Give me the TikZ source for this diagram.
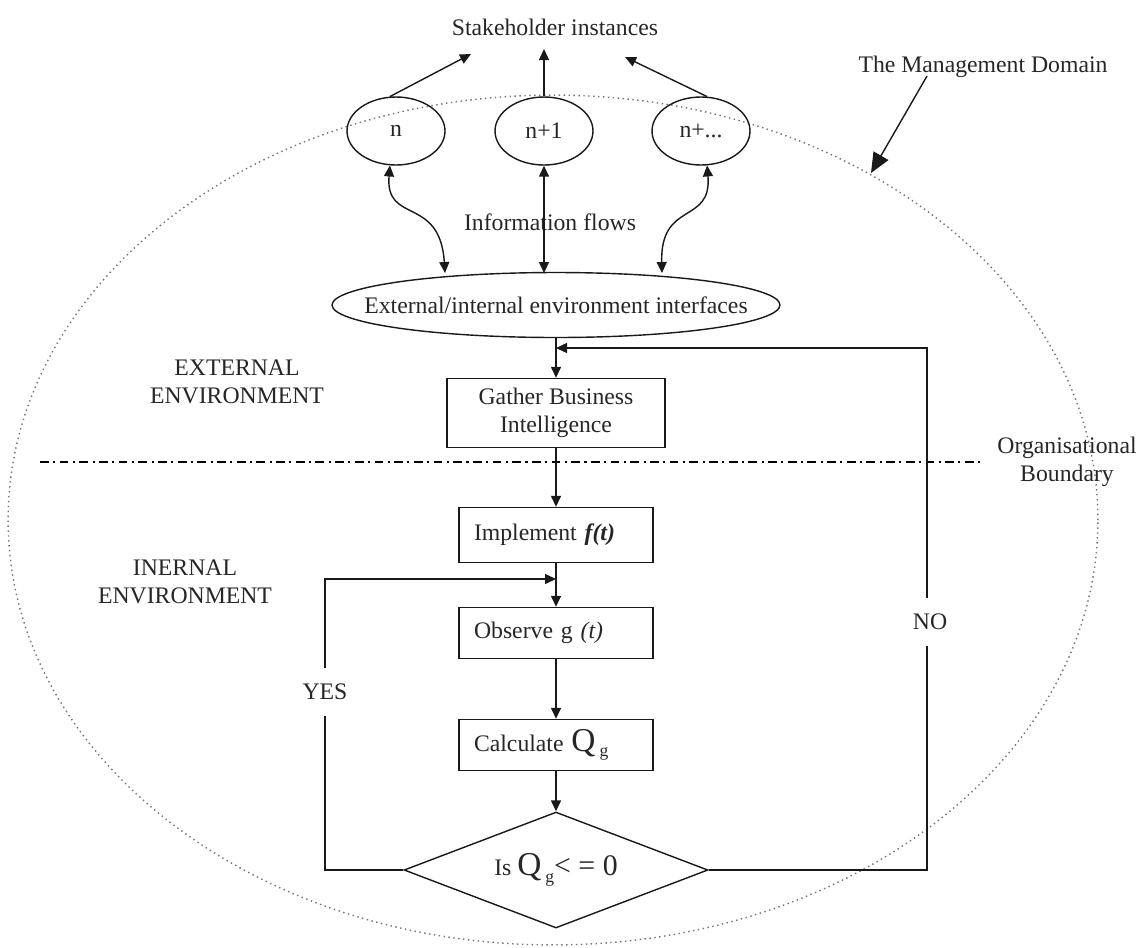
\documentclass[tikz,border=0pt]{standalone}
\usepackage{fontspec}
\setmainfont{Liberation Serif}
\usetikzlibrary{shapes.geometric,arrows.meta}
\begin{document}
\begin{tikzpicture}[x=0.02cm,y=-0.02cm,
  font=\fontsize{13.5}{16}\selectfont,
  every node/.style={text=black!85},
  ln/.style={line width=0.8pt,draw=black!90},
  arr/.style={ln,-{Triangle[length=0.22cm,width=0.2cm]}},
  darr/.style={ln,{Triangle[length=0.22cm,width=0.2cm]}-{Triangle[length=0.22cm,width=0.2cm]}},
  bigarr/.style={ln,-{Triangle[length=0.4cm,width=0.34cm]}},
  inst/.style={ellipse,ln,minimum width=1.96cm,minimum height=1.36cm,inner sep=0pt},
  stepbox/.style={rectangle,ln,minimum width=3.88cm,minimum height=1.02cm,text width=3.28cm,inner xsep=0.3cm,align=left},
  lbl/.style={align=center,inner sep=1pt}]
\useasboundingbox (0,0) rectangle (1141,947);
% management domain
\draw[dotted,line width=0.8pt,black!55] (553,520) ellipse [x radius=10.9cm,y radius=8.5cm];
\node[lbl] (mgmt) at (983,67) {The Management Domain};
\coordinate (mA) at (927,76);
\coordinate (mB) at (871,173);
\draw[bigarr] (mA) -- (mB);
% stakeholders
\node[lbl] (stake) at (555,27) {Stakeholder instances};
\node[inst] (n0) at (396,131) {n};
\node[inst] (n1) at (544,131) {n+1};
\node[inst] (n2) at (701,131) {n+...};
\coordinate (sA) at (471,54);
\coordinate (sB) at (544,49);
\coordinate (sC) at (625,57);
\draw[arr] (n0.100) -- (sA);
\draw[arr] (n1.north) -- (sB);
\draw[arr] (n2.80) -- (sC);
% interface
\node[ellipse,ln,minimum width=8.96cm,minimum height=1.3cm,inner xsep=-1.2cm,inner ysep=0pt] (iface) at (556,305) {External/internal environment interfaces};
\coordinate (iA) at (445,273);
\coordinate (iB) at (544,273);
\coordinate (iC) at (662,273);
\node[lbl] (info) at (550,222) {Information flows};
\draw[darr] (n0.-100) .. controls (385,225) and (440,195) .. (iA);
\draw[darr] (n1.south) -- (iB);
\draw[darr] (n2.-80) .. controls (712,225) and (660,200) .. (iC);
% labels
\node[lbl] (ext) at (237,382) {EXTERNAL\\ENVIRONMENT};
\node[lbl] (int) at (185,582) {INERNAL\\ENVIRONMENT};
\node[lbl] (org) at (1067,462) {Organisational\\Boundary};
\coordinate (bL) at (40,462);
\coordinate (bR) at (980,462);
\draw[line width=0.8pt,dash pattern=on 5pt off 2.5pt on 1.2pt off 2.5pt] (bL) -- (bR);
% flow
\node[rectangle,ln,minimum width=4.36cm,minimum height=1.38cm,align=center] (gather) at (556,413) {Gather Business\\Intelligence};
\node[stepbox,minimum height=1.1cm] (impl) at (556,535) {Implement \textbf{\textit{f(t)}}};
\node[stepbox] (obs) at (556,633) {Observe g \textit{(t)}};
\node[stepbox] (calc) at (556,745) {Calculate {\fontsize{19}{19}\selectfont Q}\,\raisebox{-0.5ex}{\fontsize{10}{10}\selectfont g}};
\node[diamond,aspect=2.6,ln,minimum width=6.08cm,minimum height=2.32cm,inner sep=0pt] (dec) at (556,870) {Is {\fontsize{19}{19}\selectfont Q}\,\raisebox{-0.6ex}{\fontsize{10}{10}\selectfont g}{\fontsize{17}{17}\selectfont< = 0}};
\draw[arr] (iface.south -| gather.north) -- (gather.north);
\draw[arr] (gather.south) -- (impl.north);
\draw[arr] (impl.south) -- (obs.north);
\draw[arr] (obs.south) -- (calc.north);
\draw[arr] (calc.south) -- (dec.north);
% loops
\coordinate (j1) at (556,348);
\coordinate (nr) at (927,870);
\coordinate (j2) at (556,579);
\coordinate (yl) at (325,870);
\draw[arr] (dec.east) -- (nr) -- (nr |- j1) -- (j1);
\draw[arr] (dec.west) -- (yl) -- (yl |- j2) -- (j2);
\node[fill=white,inner xsep=2pt,inner ysep=9pt] (no) at (930,622) {NO};
\node[fill=white,inner xsep=2pt,inner ysep=9pt] (yes) at (325,692) {YES};
\end{tikzpicture}
\end{document}
